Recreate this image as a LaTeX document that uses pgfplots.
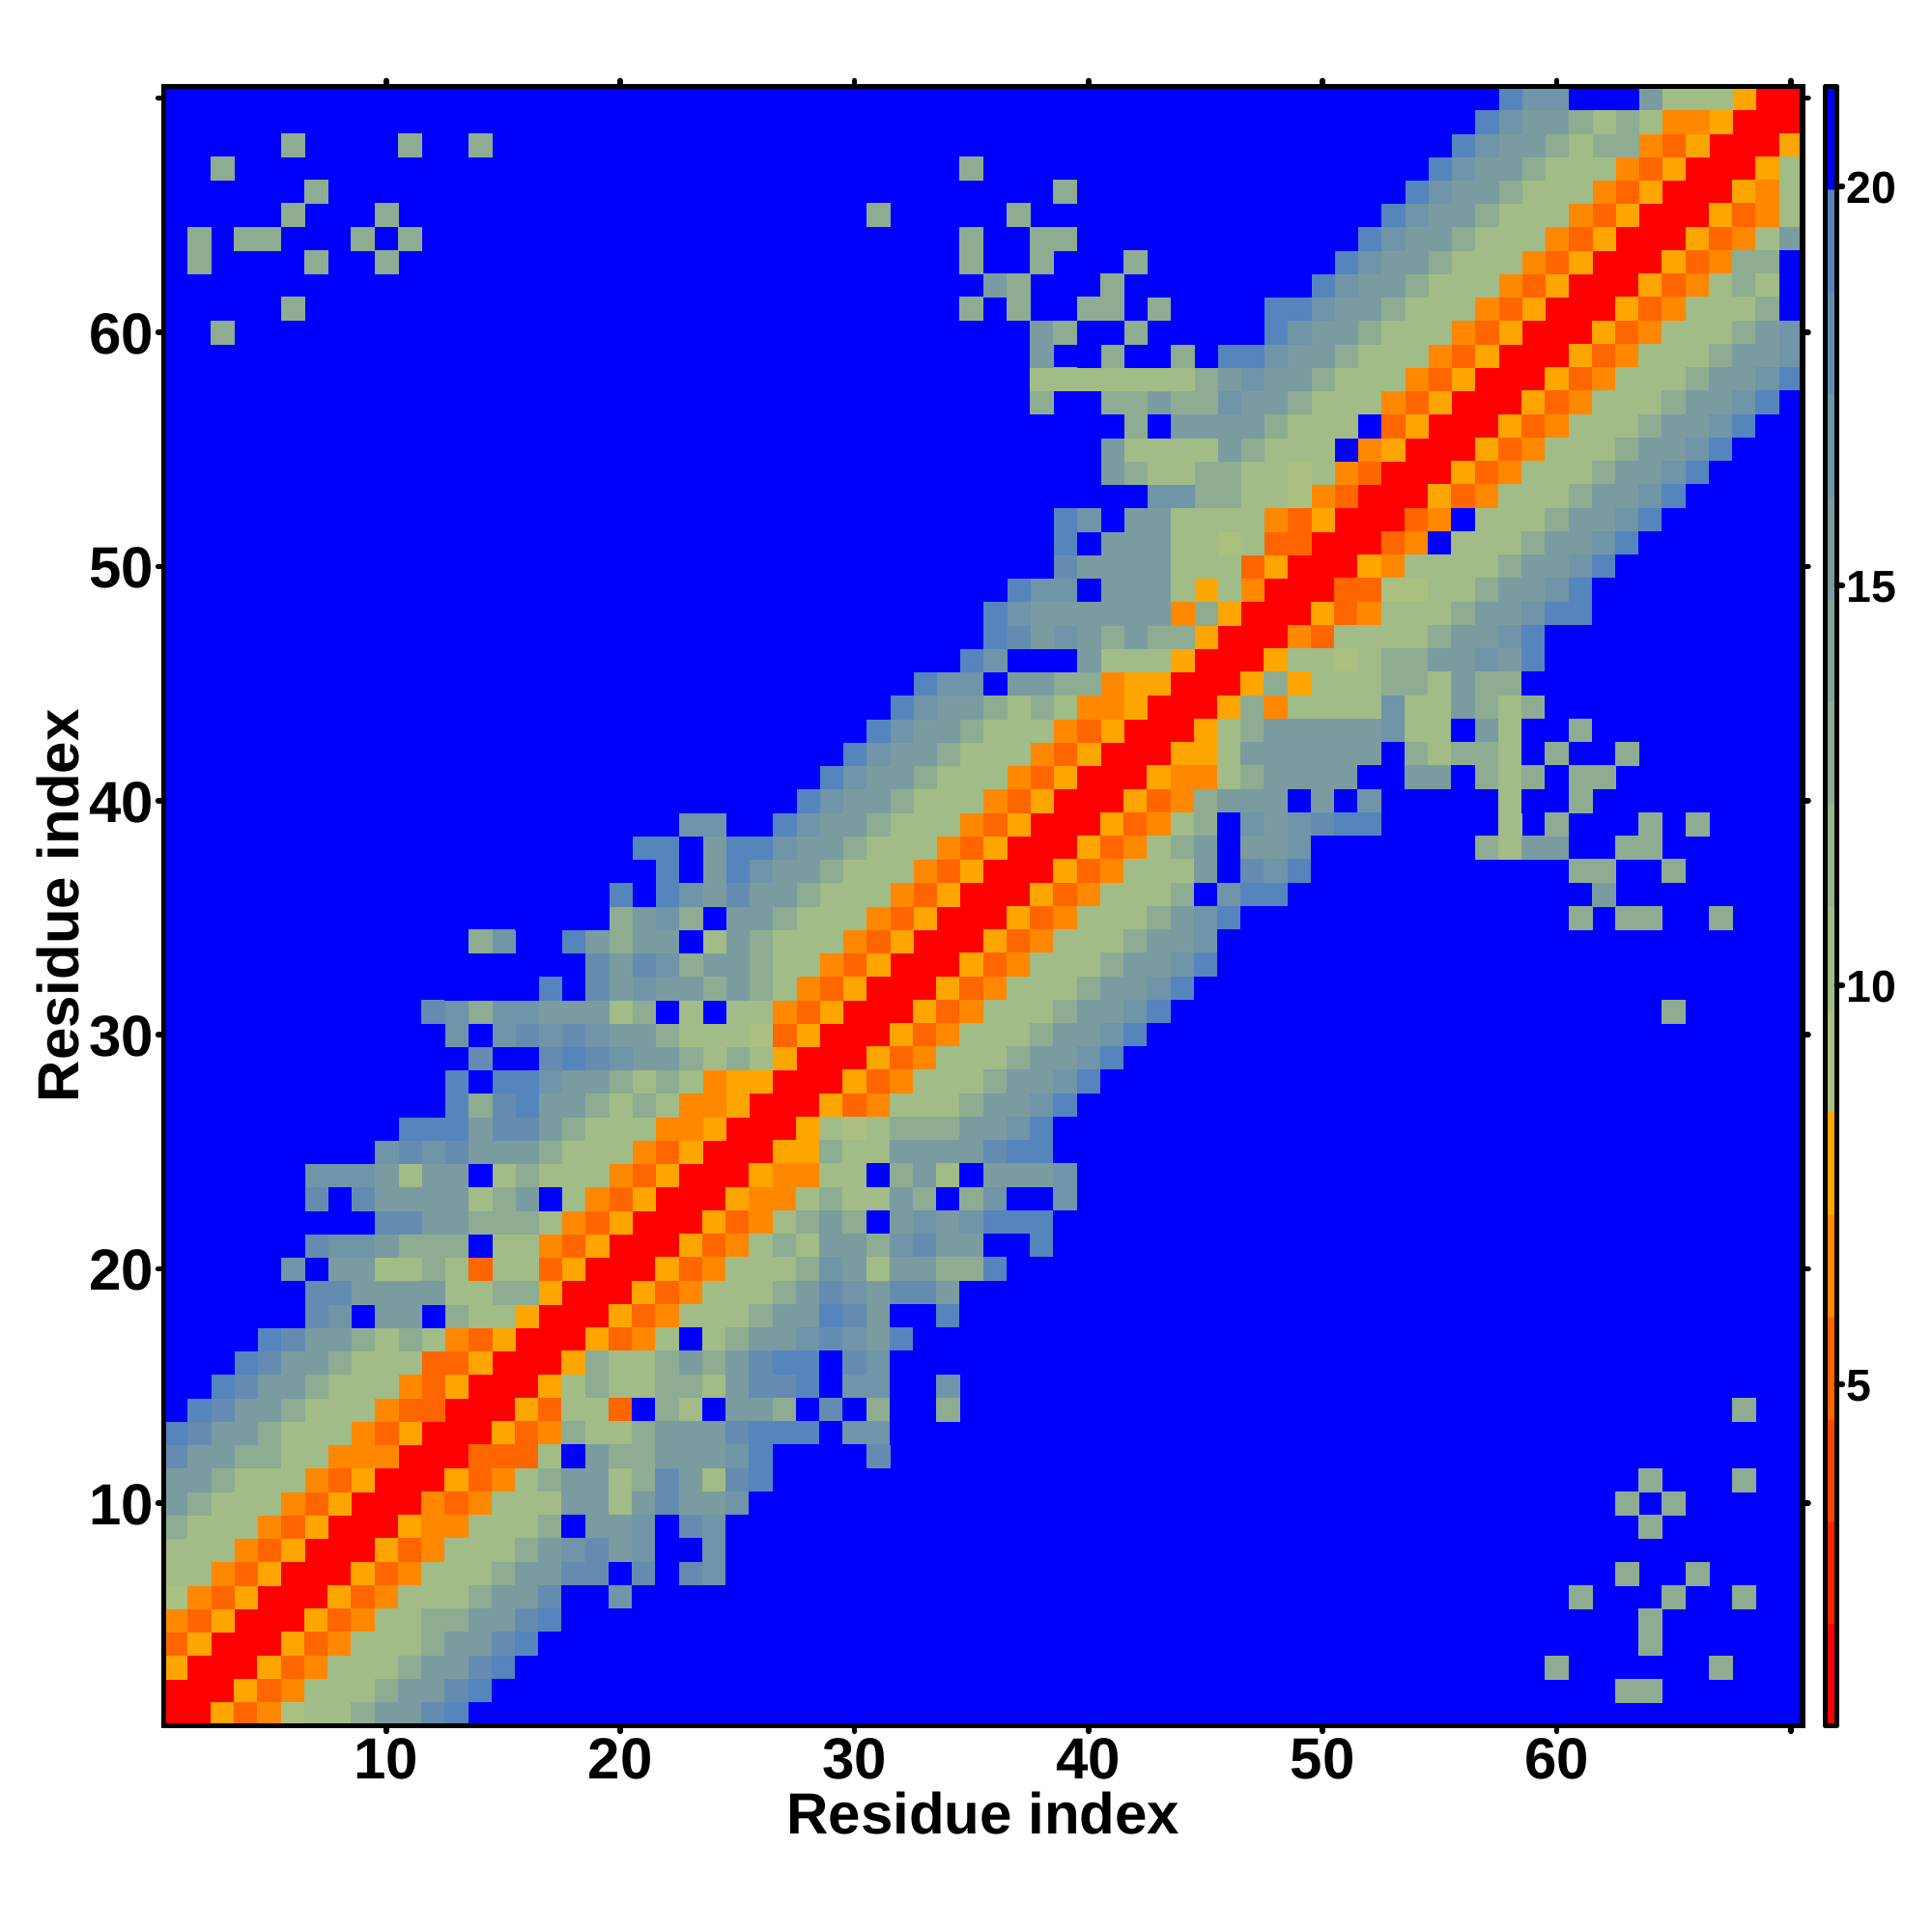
\documentclass[border=0pt]{standalone}
\usepackage{fontspec}
\setmainfont{Liberation Sans}
\usepackage{pgfplots}
\usepackage{pgfplotstable}
\pgfplotsset{compat=1.18}

% 16 flat colour steps, bottom to top of the colour bar
\pgfplotsset{colormap={steps}{
  rgb255(0)=(255,0,0) rgb255(99)=(255,0,0)
  rgb255(100)=(255,35,0) rgb255(199)=(255,35,0)
  rgb255(200)=(255,72,0) rgb255(299)=(255,72,0)
  rgb255(300)=(255,102,0) rgb255(399)=(255,102,0)
  rgb255(400)=(255,136,0) rgb255(499)=(255,136,0)
  rgb255(500)=(255,165,0) rgb255(599)=(255,165,0)
  rgb255(600)=(170,192,128) rgb255(699)=(170,192,128)
  rgb255(700)=(161,188,134) rgb255(799)=(161,188,134)
  rgb255(800)=(152,180,140) rgb255(899)=(152,180,140)
  rgb255(900)=(141,172,146) rgb255(999)=(141,172,146)
  rgb255(1000)=(131,164,152) rgb255(1099)=(131,164,152)
  rgb255(1100)=(122,156,160) rgb255(1199)=(122,156,160)
  rgb255(1200)=(112,148,168) rgb255(1299)=(112,148,168)
  rgb255(1300)=(101,140,176) rgb255(1399)=(101,140,176)
  rgb255(1400)=(86,132,188) rgb255(1499)=(86,132,188)
  rgb255(1500)=(0,0,255) rgb255(1600)=(0,0,255)
}}

% first column: residue y; then the values at x = y, y+1, ..., y+19
\pgfplotstableread[header=false]{
1 1 1 8 5 6 9 10 10 13 15 15 18 19 21 21 21 21 21 21 21
2 1 1 8 5 6 10 10 10 13 15 15 18 19 21 21 21 21 21 21 21
3 1 1 8 5 6 10 10 10 13 15 15 18 19 21 21 21 21 21 21 21
4 1 1 8 5 6 10 10 10 13 15 15 18 19 21 21 21 21 21 21 21
5 1 1 8 5 6 10 10 13 13 15 15 18 19 21 21 21 21 21 21 21
6 1 1 8 5 6 10 10 10 13 15 15 18 21 21 17 21 21 21 21 21
7 1 1 8 5 6 10 10 10 13 15 15 18 18 21 18 21 18 17 21 21
8 1 1 8 5 6 10 10 10 13 15 17 18 15 17 21 21 17 21 21 21
9 1 1 8 6 6 10 10 10 13 21 15 15 17 21 18 17 21 21 21 21
10 1 1 6 5 6 10 10 10 15 15 10 15 18 15 15 17 21 21 21 21
11 1 1 8 5 6 10 13 15 15 10 13 18 15 10 18 19 21 21 21 21
12 1 1 5 5 5 10 21 15 13 13 15 15 15 17 19 21 21 21 21 18
13 1 1 8 5 6 13 10 10 13 15 15 15 18 19 19 19 21 17 17 21
14 1 1 8 5 10 10 5 21 13 10 21 15 15 13 21 18 21 13 21 21
15 1 1 8 10 13 10 10 13 13 10 15 18 18 19 21 17 17 21 21 17
16 1 1 8 13 10 10 13 15 13 15 18 19 19 21 18 17 21 21 21 21
17 1 1 8 5 6 10 21 10 13 15 15 17 18 17 15 19 21 21 21 21
18 1 1 8 5 6 10 10 10 13 15 15 19 18 15 21 21 19 21 21 21
19 1 1 8 5 6 10 10 10 13 15 18 17 15 18 18 15 21 21 21 21
20 1 1 8 5 6 10 10 10 13 17 15 10 15 15 13 13 19 21 21 21
21 1 1 8 5 6 10 13 10 15 15 13 17 18 15 15 21 21 19 21 21
22 1 1 8 5 6 10 13 15 13 21 15 17 15 17 19 19 19 21 21 21
23 1 1 8 6 6 10 13 10 10 15 13 21 13 17 21 21 17 21 21 21
24 1 1 8 6 6 10 10 21 13 15 10 21 15 15 15 17 21 21 21 21
25 1 1 8 8 13 10 10 15 15 15 15 18 19 19 21 21 21 21 21 21
26 1 1 8 10 9 10 13 13 13 15 15 17 19 21 21 21 21 21 21 21
27 1 1 8 5 6 10 10 10 13 15 15 17 19 21 21 21 21 21 21 21
28 1 1 8 5 6 10 10 10 13 15 15 17 19 21 21 21 21 21 21 21
29 1 1 8 5 6 10 10 10 13 15 15 17 19 21 21 21 21 21 21 21
30 1 1 8 5 6 10 10 10 13 15 15 17 19 21 21 21 21 21 21 21
31 1 1 8 5 6 10 10 10 13 15 15 17 19 21 21 21 21 21 21 21
32 1 1 8 5 6 10 10 10 13 15 15 17 19 21 21 21 21 21 21 21
33 1 1 8 5 6 10 10 10 13 15 15 17 19 21 21 21 21 21 21 21
34 1 1 8 5 6 10 10 10 13 15 15 17 21 21 21 21 21 21 21 21
35 1 1 8 5 6 10 10 10 13 15 17 19 21 21 21 21 21 21 21 21
36 1 1 8 5 6 10 10 10 13 21 17 19 19 21 21 21 21 21 21 21
37 1 1 8 5 6 10 10 10 15 21 18 17 19 21 21 21 21 21 21 21
38 1 1 8 5 6 10 13 15 21 15 15 17 21 21 21 21 21 21 21 13
39 1 1 8 5 6 10 13 21 17 15 17 18 19 19 21 21 21 21 21 10
40 1 1 8 5 6 13 15 15 15 21 15 21 17 21 21 21 21 21 10 21
41 1 1 8 6 6 10 13 15 15 15 15 21 21 15 15 21 13 10 13 21
42 1 1 8 8 10 15 15 15 15 15 15 21 13 10 13 13 10 21 13 21
43 1 1 8 10 13 15 15 15 15 15 17 10 10 21 15 10 21 21 13 21
44 1 1 8 13 6 10 10 10 10 17 10 10 15 13 10 13 21 21 21 21
45 1 1 8 13 8 10 10 10 13 13 10 15 13 13 21 21 21 21 21 21
46 1 1 8 10 10 9 10 13 13 15 15 17 15 19 21 21 21 21 21 21
47 1 1 6 5 10 10 10 10 13 15 15 17 19 21 21 21 21 21 21 21
48 1 1 8 5 6 10 10 10 13 15 15 17 19 19 21 21 21 21 21 21
49 1 1 5 5 9 9 10 10 13 15 15 17 19 21 21 21 21 21 21 21
50 1 1 8 6 10 10 10 10 13 15 15 17 19 21 21 21 21 21 21 21
51 1 1 5 6 21 10 10 10 13 15 15 17 19 21 21 21 21 21 21 21
52 1 1 5 6 21 10 10 10 13 15 15 17 19 21 21 21 21 21 21 21
53 1 1 8 5 6 10 10 10 13 15 15 17 19 21 21 21 21 21 21 21
54 1 1 8 5 6 10 10 10 13 15 15 17 19 21 21 21 21 21 21 21
55 1 1 8 5 6 10 10 10 13 15 15 17 19 21 21 21 21 21 21 21
56 1 1 8 5 6 10 10 10 13 15 15 17 19 21 21 21 21 21 21 21
57 1 1 8 5 6 10 10 10 13 15 15 17 19 21 21 21 21 21 21 21
58 1 1 8 5 6 10 10 10 13 15 15 17 19 21 21 21 21 21 21 21
59 1 1 8 5 6 10 10 10 13 15 15 17 21 21 21 21 21 21 21 21
60 1 1 8 5 6 10 10 10 13 15 17 21 21 21 21 21 21 21 21 21
61 1 1 8 5 6 10 10 10 13 21 21 21 21 21 21 21 21 21 21 21
62 1 1 8 5 6 10 13 10 21 21 21 21 21 21 21 21 21 21 21 21
63 1 1 8 5 6 13 13 21 21 21 21 21 21 21 21 21 21 21 21 21
64 1 1 8 5 6 10 15 21 21 21 21 21 21 21 21 21 21 21 21 21
65 1 1 8 5 6 10 21 21 21 21 21 21 21 21 21 21 21 21 21 21
66 1 1 8 6 10 21 21 21 21 21 21 21 21 21 21 21 21 21 21 21
67 1 1 8 10 21 21 21 21 21 21 21 21 21 21 21 21 21 21 21 21
68 1 1 8 21 21 21 21 21 21 21 21 21 21 21 21 21 21 21 21 21
69 1 1 21 21 21 21 21 21 21 21 21 21 21 21 21 21 21 21 21 21
70 1 21 21 21 21 21 21 21 21 21 21 21 21 21 21 21 21 21 21 21
}\band

% pairs further from the diagonal: x y value
\pgfplotstableread[header=false]{
68 14 13
64 11 13
68 11 13
63 10 13
65 10 13
64 9 13
63 7 13
66 7 13
61 6 13
65 6 13
68 6 13
64 5 13
64 4 13
60 3 13
67 3 13
63 2 13
64 2 13
65 31 13
34 14 13
61 35 13
63 35 13
64 35 13
67 35 13
62 36 15
61 37 13
62 37 13
65 37 13
58 38 10
59 38 15
60 38 15
63 38 13
64 38 13
60 39 13
64 39 13
66 39 13
61 40 13
61 41 13
62 41 13
63 42 13
}\far

\begin{document}
\begin{tikzpicture}
\path[use as bounding box] (0,0) rectangle (500pt,500pt);
\begin{axis}[
  name=main,
  at={(42.4pt,53.4pt)}, anchor=south west,
  scale only axis, width=424.1pt, height=424.25pt,
  xmin=0.5, xmax=70.5, ymin=0.5, ymax=70.5,
  xtick={10,20,...,70}, ytick={10,20,...,70},
  xticklabels={10,20,30,40,50,60,{}},
  yticklabels={10,20,30,40,50,60,{}},
  tick align=outside, major tick length=1.5pt,
  tick style={line width=1.4pt, line cap=round, black},
  axis line style={line width=1.4pt},
  axis on top,
  axis background/.style={fill=blue},
  tick label style={font=\fontsize{15}{15}\selectfont\bfseries, inner sep=0pt},
  xticklabel style={yshift=-1.6pt},
  yticklabel style={xshift=-1pt, yshift=-0.4pt},
  xlabel={Residue index}, ylabel={Residue index},
  label style={font=\fontsize{15}{15}\selectfont\bfseries},
  xlabel style={at={(axis description cs:0.5,-0.066)}, anchor=base},
  ylabel style={at={(axis description cs:-0.052,0.5)}, anchor=base},
  colormap name=steps,
  point meta min=0.73, point meta max=21.25,
  colorbar,
  colorbar style={
    at={(1.0138,0)}, anchor=south west,
    width=3pt, height=424.25pt,
    ytick={5,10,15,20}, yticklabels={5,10,15,20},
    tick pos=right,
    tick align=outside, major tick length=1.5pt,
    axis line style={line width=1.4pt, line join=round},
    tick style={line width=1.4pt, line cap=round, black},
    yticklabel style={font=\fontsize{11.6}{12}\selectfont\bfseries, inner sep=0pt, xshift=0.9pt, yshift=-0.4pt},
  },
  cell/.style={scatter, only marks, mark=square*, mark size=3.0pt, line width=0.12pt,
    scatter/use mapped color={draw=mapped color, fill=mapped color}, point meta=explicit},
]
\pgfplotsinvokeforeach{1,...,20}{
  \addplot[cell] table[x expr=\thisrowno{0}+#1-1, y index=0, meta index=#1] {\band};
  \addplot[cell] table[x index=0, y expr=\thisrowno{0}+#1-1, meta index=#1] {\band};
}
\addplot[cell] table[x index=0, y index=1, meta index=2] {\far};
\addplot[cell] table[x index=1, y index=0, meta index=2] {\far};
\end{axis}
% the marks cover the inner half of the axis lines, so go over the frame again
\draw[line width=1.4pt, line join=round] (main.south west) rectangle (main.north east);
\end{tikzpicture}
\end{document}
